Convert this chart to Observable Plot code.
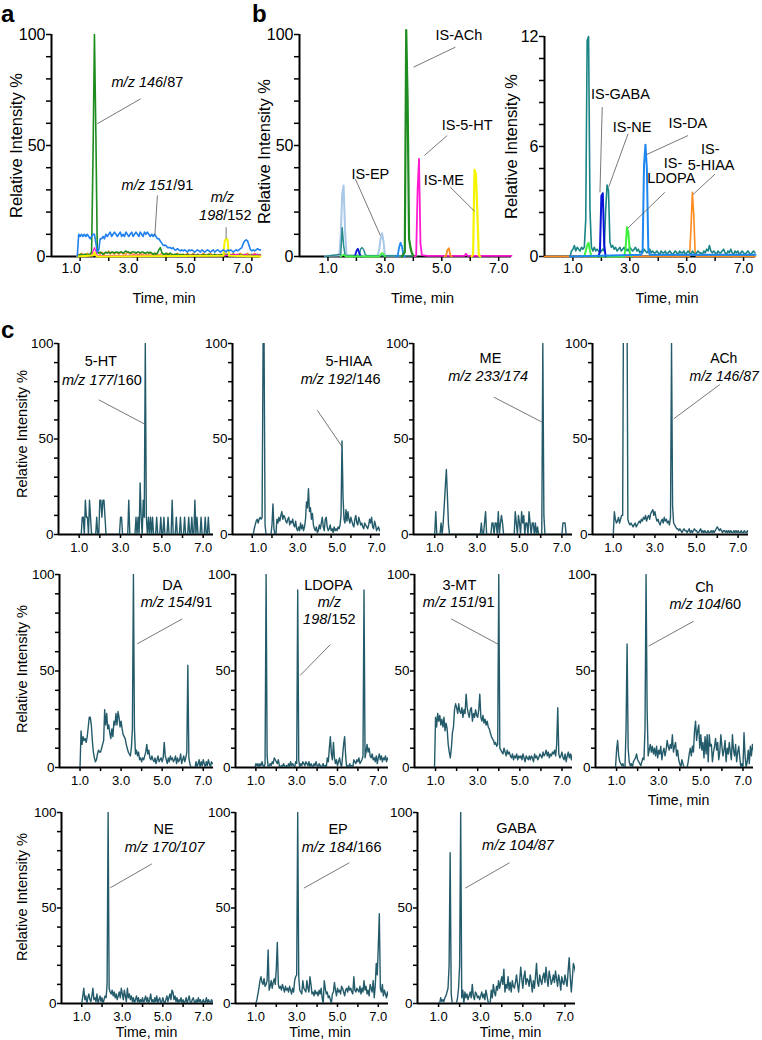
<!DOCTYPE html>
<html>
<head>
<meta charset="utf-8">
<script src="https://cdn.jsdelivr.net/npm/d3@7"></script>
<script src="https://cdn.jsdelivr.net/npm/@observablehq/plot@0.6"></script>
<style>
  html, body { margin: 0; padding: 0; background: #fff; }
  #fig { position: relative; width: 762px; height: 1040px; overflow: hidden; font-family: "Liberation Sans", Arial, Helvetica, sans-serif; }
  #fig svg { position: absolute; }
  .letter { position: absolute; font-weight: bold; font-size: 24px; line-height: 24px; color: #000; }
</style>
</head>
<body>
<div id="fig"></div>
<script>
// ---------------- tick values ----------------
const xTicks = [1, 2, 3, 4, 5, 6, 7];
const xTickLabels = [1, 3, 5, 7];
const yTicksPct = [0, 10, 20, 30, 40, 50, 60, 70, 80, 90, 100];
const yLabelsPct = [0, 50, 100];
const yTicksIS = [0, 1.2, 2.4, 3.6, 4.8, 6, 7.2, 8.4, 9.6, 10.8, 12];
const yLabelsIS = [0, 6, 12];

// ---------------- panel a (regular grid from 0.90 min, 0.05 min step) ----------------
const aBlue = [0,10,9,10,9,10,9,10,9,8, 9,10,10,6,2,3,8,8,9,8, 10,9,10,11,9,10,11,10,9,10, 11,9,10,9,11,10,9,10,11,9, 10,11,10,9,11,10,9,11,10,11, 10,9,10,9,10,9,8,8,7,6, 5,5,5,4,4,4,3.5,4,3,3, 3.5,3,2.5,3,2.5,3,2.5,2,3,2.5, 3,2.5,2,2.5,3,2.5,2,3,2.5,2, 2.5,3,2.5,2,2.5,3,2,2.5,3,2.5, 2,2.5,3,2.5,2,3,2.5,3,2.5,2, 2.5,3,2.5,3,3.5,4,6,7,7.5,7, 5,3,2.5,3,2.5,3,3.5,3,3];
const aGreen = [0,0.5,1,1,0.5,1,1,0.5,1,1, 2,45,100,55,2,1.5,2,1.5,1,1.5, 2,1.5,2,1.5,2,2,1.5,2,2,1.5, 2,2,1.5,2,2.5,2,2,1.5,2,2, 2,1.5,2,2,1.5,2,2,1.5,1.5,2, 1.5,2,1.5,1,1.5,1,1.5,3,4,2, 1,1,1.5,1,1,1.5,1,0.5,1,1, 1,0.5,1,0.5,1,0.5,0.5,1,0.5,0.5, 0.5,1,0.5,0.5,1,0.5,0.5,0.5,1,0.5, 0.5,0.5,1,0.5,0.5,0.5,1,0.5,0.5,0.5, 0.5,1,0.5,0.5,0.5,1,0.5,0.5,0.5,1, 0.5,0.5,0.5,1,0.5,0.5,0.5,1,0.5,0.5, 0.5,0.5,1,0.5,0.5,0.5,1,0.5,0.5];
const aOrange = [0,1,0.5,1.5,1,0.5,1,1.5,0.5,1, 1.5,1,0.5,1,2,1.5,1,2,1.5,1, 2,1.5,2.5,1,2,1.5,1,2,1.5,1, 1.5,2,1,1.5,1,2,1.5,1,1.5,1, 1,1.5,1,0.5,1.5,1,1,1.5,1,0.5, 1,1.5,1,0.5,1,1.5,1,0.5,1,1.5, 1,0.5,1,1.5,1,0.5,1,1,0.5,1, 1.5,1,0.5,1,1,0.5,1,1.5,1,0.5, 1,1.5,1,0.5,1,1,0.5,1,1.5,1, 0.5,1,1,1.5,1,0.5,1,1,0.5,1, 1,0.5,1,1.5,1,1,0.5,1,1,1.5, 1,0.5,1,1,1.5,1,0.5,1,1,1.5, 1,0.5,1,1,1.5,1,0.5,1,1];
const aYellow = [[0.9,0],[1.45,0.5],[1.5,1.8],[1.55,0.5],[1.6,0],[6.0,0.3],[6.05,7],[6.1,8],[6.15,7.5],[6.2,0.3],[7.3,0]];
const aMagenta = [[0.9,0],[1.4,0.5],[1.5,4],[1.6,0.5],[2.0,0.3],[3.0,0.5],[4.0,0.3],[5.0,0.5],[6.0,0.3],[6.5,1],[6.6,0.3],[6.8,1],[6.9,0.3],[7.1,1],[7.3,0.5]];

// ---------------- panel b, left ----------------
const bLightBlue = [[0.9,0],[1.0,0.3],[1.4,0.5],[1.45,10],[1.5,28],[1.55,32],[1.6,12],[1.65,0.8],[1.7,0.3],[2.75,0.4],[2.8,3],[2.85,8],[2.9,10.5],[2.95,7],[3.0,0.5],[3.1,0.3],[3.7,0.3]];
const bTeal = [[0.9,0],[1.0,0.2],[1.45,1],[1.5,13],[1.55,5],[1.6,0.5],[2.1,0.4],[2.15,3.5],[2.2,4],[2.25,3.2],[2.3,1.2],[2.35,0.4],[3.0,0.3],[4.0,0.2]];
const bDarkBlue = [[1.9,0],[1.95,0.2],[2.0,2.5],[2.05,3.5],[2.1,1.5],[2.15,0],[2.2,0]];
const bLime = [[1.45,0],[1.5,0.5],[1.55,0.8],[1.6,0.3],[1.65,0],[2.8,0],[2.85,0.8],[2.9,1.5],[2.95,1.2],[3.0,0]];
const bBlue = [[3.4,0],[3.45,0.3],[3.5,4],[3.55,6.2],[3.6,4.5],[3.65,0.5],[3.7,0]];
const bGreen = [[3.6,0],[3.7,2],[3.75,102],[3.8,70],[3.85,8],[3.9,4],[3.95,1.5],[4.0,0.3],[4.1,0]];
const bMagenta = [[4.05,0],[4.1,0.5],[4.15,30],[4.2,44],[4.25,6],[4.3,0.6],[4.5,0.3],[5.8,0.3],[5.85,1.2],[5.9,0.3],[7.45,0.3]];
const bOrange = [[5.1,0],[5.15,0.3],[5.2,3],[5.25,3.7],[5.3,0.5],[5.35,0]];
const bYellow = [[6.05,0],[6.1,1],[6.15,39],[6.2,37],[6.25,20],[6.3,0.5],[6.35,0]];

// ---------------- panel b, right (teal on grid from 0.90 min) ----------------
const rTeal = [0,0.3,0.4,0.6,0.3,0.5,0.4,0.3,0.5,0.4, 0.5,2,11.8,12,2.5,0.5,0.3,0.5,0.3,0.4, 0.3,0.2,0.3,0.4,0.3,2.5,3.9,3.6,0.8,0.5, 0.6,0.4,0.5,0.3,0.4,0.5,0.3,0.4,0.5,0.3, 0.4,0.3,0.5,0.4,0.3,0.4,0.5,0.3,0.4,0.2, 0.3,0.2,0.4,0.3,0.2,0.3,0.4,0.2,0.3,0.2, 0.2,0.3,0.2,0.1,0.3,0.2,0.2,0.3,0.1,0.2, 0.3,0.2,0.1,0.2,0.3,0.2,0.1,0.3,0.2,0.2, 0.3,0.1,0.2,0.3,0.2,0.1,0.3,0.2,0.1,0.2, 0.3,0.2,0.2,0.1,0.3,0.2,0.4,0.3,0.6,0.3, 0.2,0.3,0.2,0.1,0.3,0.2,0.2,0.3,0.4,0.2, 0.1,0.3,0.2,0.4,0.2,0.1,0.3,0.2,0.3,0.1, 0.2,0.3,0.2,0.1,0.2,0.3,0.2,0.1,0.2,0.3, 0.2];
const rDarkBlue = [[1.9,0],[1.95,0.3],[2.0,3.3],[2.05,3.45],[2.1,0.6],[2.15,0]];
const rLime = [[1.4,0],[1.45,0.3],[1.5,0.6],[1.55,0.75],[1.6,0.3],[1.65,0],[2.8,0],[2.85,0.4],[2.9,1.6],[2.95,1.3],[3.0,0.2],[3.05,0]];
const rBlue = [[0.9,0],[3.4,0.1],[3.45,0.3],[3.5,5],[3.55,6.1],[3.6,4.8],[3.65,0.4],[3.7,0.1],[7.42,0.1]];
const rOrange = [[0,0],[5.1,0],[5.15,1.5],[5.2,3.5],[5.25,2.2],[5.3,0.1],[5.35,0],[7.42,0]];

// ---------------- panel c (regular grid from 0.95 min, 0.05 min step) ----------------
const c5HT = [0, 0,0,0,9,9,0,18,9,9,0, 18,9,0,0,0,0,0,9,0,0, 18,18,9,18,18,9,0,0,0,0, 0,0,0,0,0,0,0,0,0,0, 9,9,0,0,0,0,0,0,18,0, 0,0,0,0,0,9,0,9,0,27, 9,0,18,9,100,9,0,9,0,9, 0,9,0,0,0,9,0,0,0,9, 0,0,9,0,0,0,9,0,0,0, 18,0,0,0,9,0,0,0,9,0, 0,0,9,0,0,0,9,0,0,9, 0,0,18,0,9,0,0,0,9,0, 0,0,9,0,0,9,0,0,0,0, 0];
const c5HIAA = [0, 0,0,3,5,7,8,6,8,9,8, 9,100,100,5,0,0,0,0,0,0, 5,16,3,0,0,8,6,9,7,10, 12,8,10,9,7,6,8,9,5,7, 6,8,5,4,7,3,2,4,2,6, 3,5,2,4,8,17,14,24,12,14, 8,11,5,3,2,4,1,2,5,3, 6,9,4,2,8,9,4,2,3,5, 2,3,1,4,2,3,2,4,3,5, 10,49,20,8,6,13,7,12,8,6, 9,7,5,4,8,10,6,5,9,7, 5,6,4,3,6,5,4,3,5,8, 6,9,4,3,7,5,2,3,4,2, 3];
const cME = [0, 0,12,0,0,0,0,6,0,6,15, 25,34,20,5,0,0,0,0,0,0, 0,0,0,0,0,0,0,0,0,0, 0,0,0,0,0,0,0,0,0,0, 0,0,0,0,6,0,0,6,12,0, 0,0,0,0,6,6,0,6,6,0, 12,0,6,10,6,0,0,0,0,0, 0,0,0,0,0,0,12,6,0,10, 6,0,12,6,10,0,6,6,0,12, 6,0,6,6,0,6,0,4,0,0, 0,0,100,10,0,0,0,0,0,0, 0,0,0,0,0,0,0,0,0,0, 0,6,6,6,0,0,0,0,0,0, 0];
const cACh = [0, 0,12,8,6,7,9,6,8,10,10, 150,200,200,150,8,6,5,6,5,4, 5,6,4,5,6,7,6,8,7,9, 8,10,7,9,10,8,11,12,13,10, 12,9,7,8,6,5,7,8,6,9, 7,8,6,7,5,9,100,15,6,5, 4,3,3,2,3,2,1,2,3,2, 2,1,2,3,1,2,1,2,3,2, 2,1,1,2,3,1,2,1,2,1, 1,2,1,1,2,1,2,1,2,3, 4,3,2,3,2,1,2,2,1,2, 1,2,1,2,1,1,2,1,2,1, 2,1,1,2,1,1,2,1,1,2, 1];
const cDA = [0, 0,19,12,16,14,15,13,16,21,26, 26,22,14,8,5,3,4,7,9,8, 8,10,12,14,30,22,28,20,22,18, 15,20,16,24,22,28,22,29,26,21, 24,20,17,16,15,12,10,8,7,6, 10,20,100,20,7,9,6,8,4,5, 3,5,4,6,8,12,7,9,5,4, 6,4,3,5,2,4,6,3,4,5, 3,5,13,6,4,2,5,3,6,4, 5,3,4,6,2,5,3,4,7,2, 4,6,3,5,8,53,5,2,0,0, 0,0,0,3,0,2,4,0,3,1, 4,2,0,3,1,4,2,0,3,2, 2];
const cLDOPA = [0, 2,1,2,0,2,1,3,1,0,2, 100,6,0,1,2,1,3,2,5,4, 3,2,4,1,0,1,0,2,1,0, 1,0,2,0,3,1,2,1,0,3, 2,92,4,0,2,1,3,2,1,3, 2,1,3,0,2,1,0,2,1,3, 1,0,2,1,0,1,2,0,1,0, 5,3,10,16,7,4,13,5,2,4, 1,3,5,2,0,6,12,16,6,0, 1,0,2,0,1,0,4,3,2,4, 3,5,2,3,4,6,92,5,8,12, 8,10,6,5,7,4,5,3,6,2, 5,7,4,6,3,5,4,6,3,5, 4];
const c3MT = [0, 26,21,28,24,27,22,25,21,26,19, 23,20,12,8,5,10,18,21,30,33, 31,28,33,29,28,31,26,30,28,38, 31,28,26,30,31,24,28,26,30,27, 26,30,38,26,24,27,23,25,22,24, 21,20,18,16,15,14,12,13,11,12, 100,10,9,8,7,10,8,6,9,7, 8,6,5,7,4,6,5,7,4,6, 5,6,4,7,5,3,6,5,4,6, 4,6,5,3,7,5,6,4,5,7, 6,5,8,6,7,9,6,8,5,7, 6,8,7,9,6,12,31,7,5,6, 8,5,4,7,3,6,8,5,7,4, 7];
const cCh = [0, 9,14,6,3,2,1,2,0,0,20, 64,10,3,1,2,0,3,4,5,7, 4,3,2,1,3,5,4,20,100,30, 6,9,12,8,11,7,10,6,11,5, 9,7,11,4,8,10,6,9,14,11, 9,12,10,17,8,11,13,6,9,4, 2,0,4,2,0,0,0,0,3,7, 10,6,11,8,19,24,14,19,22,10, 17,9,13,5,16,7,17,3,17,11, 12,3,8,11,15,9,13,4,8,17, 11,6,9,14,3,10,7,13,8,4, 17,9,6,12,3,8,11,5,0,2, 0,18,6,0,3,9,2,11,6,12, 9];
const cNE = [0, 0,4,8,2,4,0,3,5,2,1, 4,8,2,3,1,5,0,2,4,1, 3,0,2,4,3,10,100,8,6,5, 7,4,6,3,5,2,4,6,3,8, 5,2,7,4,1,8,3,5,2,4, 1,3,0,2,4,1,3,0,2,1, 3,0,2,4,1,3,0,2,5,1, 2,0,3,1,4,0,2,3,0,1, 3,1,0,2,4,1,3,5,2,7, 6,2,4,1,3,0,2,1,3,0, 2,0,1,3,0,2,4,1,0,2, 3,1,0,2,0,3,1,2,0,1, 2,0,1,3,0,2,1,0,2,1, 0];
const cEP = [0, 0,2,5,8,12,14,11,10,13,9, 10,12,28,7,9,12,8,11,13,10, 18,32,10,8,9,7,10,8,6,9, 7,8,6,9,7,5,8,6,12,14, 15,100,14,7,6,5,12,8,7,6, 12,8,6,14,10,5,6,4,7,5, 6,4,7,5,8,3,0,12,8,5, 6,3,4,2,0,5,6,11,7,4, 8,6,7,5,9,8,6,4,7,8, 6,9,7,8,6,5,14,7,6,8, 7,6,9,5,8,6,12,7,9,5, 7,4,10,8,6,12,3,9,21,15, 30,47,8,6,10,4,7,5,3,6, 4];
const cGABA = [0, 0,0,3,1,2,1,3,4,6,8, 20,79,5,0,0,0,0,0,3,8, 20,100,3,7,0,6,3,5,2,4, 6,3,10,4,2,6,5,3,4,2, 4,6,3,5,2,7,4,1,0,0, 7,3,10,6,4,9,7,12,8,11, 14,10,18,6,10,8,14,7,11,6, 12,9,8,11,15,10,6,12,19,13, 8,14,17,10,13,12,9,15,11,6, 12,8,14,21,11,9,15,12,10,14, 16,11,19,13,9,17,14,10,12,15, 11,17,13,9,15,12,7,14,11,10, 15,12,9,17,24,14,6,13,21,19, 16];

// ---------------- annotations (data units) ----------------
const aNotes = [{x:3.35,y:78.5,label:"_m/z 146_/87"},{x:3.7,y:32,label:"_m/z 151_/91"},{x:5.97,y:26.7,label:"_m/z_"},{x:6.07,y:18.5,label:"_198_/152"}];
const aLeaders = [{x1:3.11,y1:71,x2:1.6,y2:59.8},{x1:3.7,y1:27.5,x2:3.61,y2:9.5},{x1:6.1,y1:13.2,x2:6.1,y2:8}];
const bLNotes = [{x:5.6,y:99.5,label:"IS-ACh"},{x:5.89,y:59,label:"IS-5-HT"},{x:5.07,y:34.5,label:"IS-ME"},{x:2.49,y:37.2,label:"IS-EP"}];
const bLLeaders = [{x1:5.48,y1:94.3,x2:4.01,y2:85.3},{x1:5.19,y1:54.5,x2:4.39,y2:45.5},{x1:5.3,y1:31.2,x2:6.15,y2:20.4},{x1:1.96,y1:35,x2:2.84,y2:9.5}];
const bRNotes = [{x:2.67,y:8.82,label:"IS-GABA"},{x:3.08,y:7.05,label:"IS-NE"},{x:5.04,y:7.24,label:"IS-DA"},{x:4.52,y:5.1,label:"IS-"},{x:4.46,y:4.24,label:"LDOPA"},{x:5.83,y:5.87,label:"IS-"},{x:5.86,y:4.96,label:"5-HIAA"}];
const bRLeaders = [{x1:2.03,y1:8.15,x2:1.95,y2:3.5},{x1:2.94,y1:6.7,x2:2.26,y2:3.8},{x1:5.05,y1:6.6,x2:3.59,y2:5.56},{x1:4.23,y1:3.5,x2:2.94,y2:1.56},{x1:6.0,y1:4.5,x2:5.22,y2:3.38}];

const cNotes = {
  "5-HT": [{x:2.05,y:90.6,label:"5-HT"},{x:2.1,y:80.6,label:"_m/z 177_/160"}],
  "5-HIAA": [{x:5.9,y:90.6,label:"5-HIAA"},{x:5.48,y:81,label:"_m/z 192_/146"}],
  "ME": [{x:3.63,y:92,label:"ME"},{x:3.52,y:82.9,label:"_m/z 233/174_"}],
  "ACh": [{x:6.31,y:92,label:"ACh"},{x:6.33,y:82.9,label:"_m/z 146/87_"}],
  "DA": [{x:5.5,y:94.3,label:"DA"},{x:5.7,y:85.7,label:"_m/z 154_/91"}],
  "LDOPA": [{x:4.55,y:94.3,label:"LDOPA"},{x:4.6,y:85.7,label:"_m/z_"},{x:4.6,y:76.7,label:"_198_/152"}],
  "3-MT": [{x:2.13,y:94.3,label:"3-MT"},{x:2.1,y:85.7,label:"_m/z 151_/91"}],
  "Ch": [{x:5.17,y:93.4,label:"Ch"},{x:5.21,y:84.5,label:"_m/z 104_/60"}],
  "NE": [{x:5.04,y:91,label:"NE"},{x:5.09,y:81.5,label:"_m/z 170/107_"}],
  "EP": [{x:5.03,y:91,label:"EP"},{x:5.2,y:81.8,label:"_m/z 184_/166"}],
  "GABA": [{x:4.69,y:91.5,label:"GABA"},{x:4.77,y:82.9,label:"_m/z 104/87_"}]
};
const cLeaders = {
  "5-HT": [{x1:1.95,y1:70.5,x2:4.24,y2:57.4}],
  "5-HIAA": [{x1:4.3,y1:65,x2:5.57,y2:45.7}],
  "ME": [{x1:3.79,y1:71.9,x2:6.07,y2:58.8}],
  "ACh": [{x1:6.12,y1:78.5,x2:3.91,y2:60.6}],
  "DA": [{x1:5.98,y1:77,x2:3.79,y2:64.1}],
  "LDOPA": [{x1:4.65,y1:63.7,x2:3.17,y2:47.7}],
  "3-MT": [{x1:1.74,y1:77,x2:4.0,y2:63.7}],
  "Ch": [{x1:4.66,y1:75.8,x2:2.52,y2:62.9}],
  "NE": [{x1:4.46,y1:73.1,x2:2.41,y2:60.6}],
  "EP": [{x1:5.58,y1:73.7,x2:3.35,y2:60.4}],
  "GABA": [{x1:4.37,y1:73.7,x2:2.27,y2:60.4}]
};

// ---------------- helpers ----------------
const STEP = 0.05;
const FONT = '"Liberation Sans", Arial, Helvetica, sans-serif';
const fromGrid = (t0, vals) => vals.map((v, i) => ({t: Math.round((t0 + i * STEP) * 100) / 100, v}));
const fromPairs = (p) => p.map(([t, v]) => ({t, v}));

function italicize(svg) {
  const nodes = Array.from(svg.querySelectorAll("text, tspan"));
  nodes.forEach(el => {
    if (el.children.length) return;
    const s = el.textContent;
    if (!s.includes("_")) return;
    el.textContent = "";
    s.split("_").forEach((part, i) => {
      if (!part) return;
      const ts = document.createElementNS("http://www.w3.org/2000/svg", "tspan");
      if (i % 2 === 1) ts.setAttribute("font-style", "italic");
      ts.textContent = part;
      el.appendChild(ts);
    });
  });
}

const fig = document.getElementById("fig");

function makePanel(p) {
  const mL = 56, mR = 6, mT = 16, mB = 56;
  const W = p.right - p.left, H = p.bottom - p.top;
  const marks = [
    Plot.axisY({ticks: p.yTicks, tickSize: p.tick, tickFormat: () => "", strokeWidth: 1.5, label: null}),
    Plot.axisX({ticks: xTicks, tickSize: p.tick, tickFormat: () => "", strokeWidth: 1.5, label: null}),
    Plot.text(p.yLabels, {y: d => d, text: d => String(d), frameAnchor: "left", dx: -(p.tick + 1), textAnchor: "end", lineAnchor: "middle", fontSize: p.yFont}),
    Plot.text(xTickLabels, {x: d => d, text: d => d.toFixed(1), frameAnchor: "bottom", dy: p.xLabDy, dx: p.xLabDx || 0, textAnchor: "middle", lineAnchor: "top", fontSize: p.xFont}),
    Plot.ruleX([0], {y1: 0, y2: p.ymax, stroke: "#000", strokeWidth: 2}),
    Plot.ruleY([0], {stroke: "#000", strokeWidth: 2})
  ];
  p.series.forEach(s => marks.push(Plot.line(s.data, {x: "t", y: "v", stroke: s.color, strokeWidth: s.w || 1.4, clip: !!p.clip})));
  if (p.leaders) marks.push(Plot.link(p.leaders, {x1: "x1", y1: "y1", x2: "x2", y2: "y2", stroke: "#555", strokeWidth: 0.8}));
  if (p.notes) marks.push(Plot.text(p.notes, {x: "x", y: "y", text: "label", fontSize: p.noteFont, textAnchor: "middle", lineAnchor: "middle", fill: "#000"}));
  if (p.ytitle) marks.push(Plot.text(["Relative Intensity %"], {text: d => d, frameAnchor: "left", rotate: -90, dx: p.ytDx, dy: p.ytDy || 0, textAnchor: "middle", lineAnchor: "middle", fontSize: p.ytFont}));
  if (p.xtitle) marks.push(Plot.text(["Time, min"], {text: d => d, frameAnchor: "bottom", dx: p.xtDx || 0, dy: p.xtDy, textAnchor: "middle", lineAnchor: "middle", fontSize: p.xtFont}));
  const svg = Plot.plot({
    width: W + mL + mR, height: H + mT + mB,
    marginLeft: mL, marginRight: mR, marginTop: mT, marginBottom: mB,
    x: {domain: [0, p.xmax], axis: null},
    y: {domain: [0, p.ymax], axis: null},
    style: {background: "transparent", overflow: "visible", fontFamily: FONT, color: "#000", maxWidth: "none"},
    marks
  });
  svg.style.left = (p.left - mL) + "px";
  svg.style.top = (p.top - mT) + "px";
  italicize(svg);
  fig.appendChild(svg);
}

// ---------------- top row ----------------
const topBase = {tick: 5, yFont: 16, xFont: 14, xLabDy: 7, noteFont: 14.5, ytitle: true, ytDx: -35, ytFont: 16.5, xtitle: true, xtDy: 42, xtFont: 14.5};
makePanel({...topBase, left: 51, right: 260, top: 34, bottom: 256, xmax: 7.3, ymax: 100, yTicks: yTicksPct, yLabels: yLabelsPct, xLabDx: -9, xtDx: 8,
  series: [
    {data: fromGrid(0.9, aOrange), color: "#ff8a1e", w: 1.3},
    {data: fromGrid(0.9, aGreen), color: "#1e8c1e", w: 1.6},
    {data: fromPairs(aMagenta), color: "#ff1ad2", w: 1.2},
    {data: fromPairs(aYellow), color: "#f5f500", w: 2},
    {data: fromGrid(0.9, aBlue), color: "#1f80ee", w: 1.6}
  ], notes: aNotes, leaders: aLeaders});
makePanel({...topBase, left: 299, right: 511, top: 34, bottom: 256, xmax: 7.45, ymax: 100, yTicks: yTicksPct, yLabels: yLabelsPct, xtDx: 17, ytDy: 6,
  series: [
    {data: fromPairs(bLightBlue), color: "#a9c8e8", w: 2},
    {data: fromPairs(bTeal), color: "#2a8c8c", w: 1.5},
    {data: fromPairs(bDarkBlue), color: "#0a14d6", w: 1.8},
    {data: fromPairs(bLime), color: "#44ee44", w: 1.8},
    {data: fromPairs(bBlue), color: "#1e88f0", w: 1.8},
    {data: fromPairs(bGreen), color: "#1e8c1e", w: 2.2},
    {data: fromPairs(bMagenta), color: "#ff1ad2", w: 1.8},
    {data: fromPairs(bOrange), color: "#ff8a1e", w: 1.8},
    {data: fromPairs(bYellow), color: "#f5f500", w: 2.2}
  ], notes: bLNotes, leaders: bLLeaders});
makePanel({...topBase, left: 544, right: 755, top: 36, bottom: 256, xmax: 7.42, ymax: 12, yTicks: yTicksIS, yLabels: yLabelsIS, xtDx: 17, ytDx: -33,
  series: [
    {data: fromPairs(rOrange), color: "#ff8a1e", w: 1.6},
    {data: fromGrid(0.9, rTeal), color: "#1a8585", w: 1.6},
    {data: fromPairs(rLime), color: "#3cf03c", w: 2},
    {data: fromPairs(rDarkBlue), color: "#0a14d6", w: 2},
    {data: fromPairs(rBlue), color: "#1e88f0", w: 2}
  ], notes: bRNotes, leaders: bRLeaders});

// ---------------- panel c ----------------
const cColor = "#245b6a";
const cBase = {tick: 4, yFont: 13.5, xFont: 13, xLabDy: 8, noteFont: 14.5, xmax: 7.5, ymax: 100, yTicks: yTicksPct, yLabels: yLabelsPct, clip: true, ytFont: 14.6, xtFont: 14.2};
const cPanels = [
  {name: "5-HT", vals: c5HT, left: 58, right: 213, top: 343, bottom: 534, ytitle: true, ytDx: -36, ytDy: -5},
  {name: "5-HIAA", vals: c5HIAA, left: 232, right: 380, top: 343, bottom: 534, xLabDx: 6},
  {name: "ME", vals: cME, left: 413, right: 572, top: 343, bottom: 534},
  {name: "ACh", vals: cACh, left: 592, right: 748, top: 343, bottom: 534, noteFont: 14},
  {name: "DA", vals: cDA, left: 59, right: 213, top: 574, bottom: 767, ytitle: true, ytDx: -37, ytDy: -2},
  {name: "LDOPA", vals: cLDOPA, left: 235, right: 388, top: 574, bottom: 767},
  {name: "3-MT", vals: c3MT, left: 414, right: 572, top: 574, bottom: 767},
  {name: "Ch", vals: cCh, left: 595, right: 753, top: 574, bottom: 767, xtitle: true, xtDy: 33, xtDx: 4},
  {name: "NE", vals: cNE, left: 61, right: 213, top: 812, bottom: 1003, ytitle: true, ytDx: -39, ytDy: -11, xtitle: true, xtDy: 29, xtDx: 9},
  {name: "EP", vals: cEP, left: 235, right: 388, top: 812, bottom: 1003, xtitle: true, xtDy: 29, xtDx: 8},
  {name: "GABA", vals: cGABA, left: 417, right: 575, top: 812, bottom: 1003, xtitle: true, xtDy: 29, xtDx: 14}
];
cPanels.forEach(cp => makePanel({...cBase, ...cp,
  series: [{data: fromGrid(0.95, cp.vals), color: cColor, w: 1.4}],
  notes: cNotes[cp.name], leaders: cLeaders[cp.name]}));

// ---------------- panel letters ----------------
[["a", 1, 2], ["b", 252, 2], ["c", 1, 318]].forEach(([t, x, y]) => {
  const d = document.createElement("div");
  d.className = "letter"; d.textContent = t;
  d.style.left = x + "px"; d.style.top = y + "px";
  fig.appendChild(d);
});
</script>
</body>
</html>
